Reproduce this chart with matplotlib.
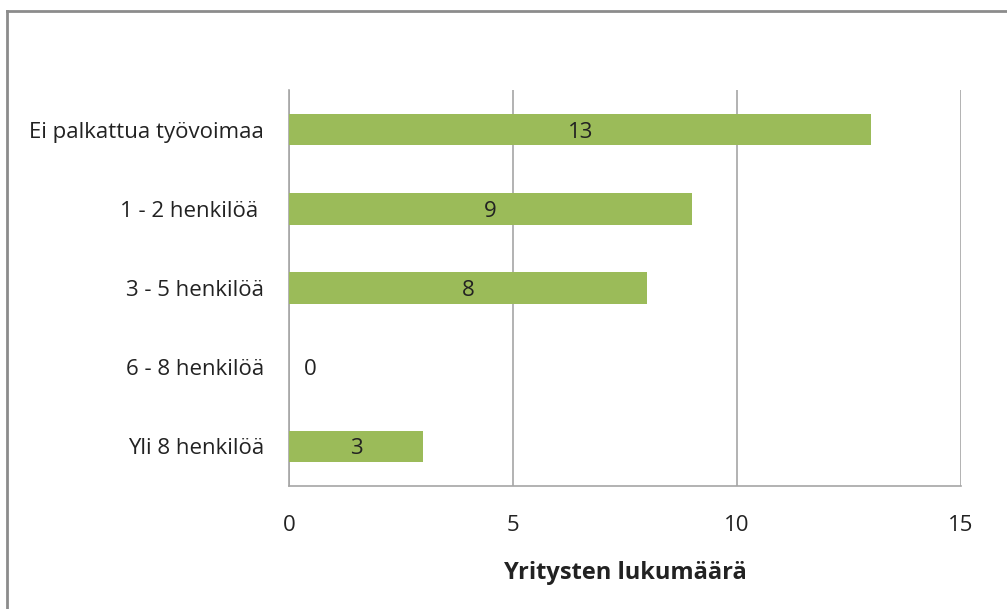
import matplotlib
matplotlib.use('Agg')
from matplotlib import pyplot as plt
from matplotlib.lines import Line2D
import numpy as np

categories = ['Ei palkattua työvoimaa', '1 - 2 henkilöä ', '3 - 5 henkilöä',
              '6 - 8 henkilöä', 'Yli 8 henkilöä']
counts = [13, 9, 8, 0, 3]
x_ticks = [0, 5, 10, 15]
x_label = 'Yritysten lukumäärä'

plt.rcParams['font.family'] = ['Open Sans', 'DejaVu Sans']

W, H = 1007, 609
fig = plt.figure(figsize=(W / 100, H / 100), dpi=100)
ax = fig.add_axes([289 / W, 1 - 486 / H, (961 - 289) / W, (486 - 90) / H])

y_pos = np.arange(len(categories))
ax.barh(y_pos, counts, height=0.4, color='#9bbb59', zorder=3)

for y, v in zip(y_pos, counts):
    if v > 0:
        ax.text(v / 2, y, str(v), ha='center', va='center_baseline',
                fontsize=16, color='#222222', zorder=4)
    else:
        ax.annotate(str(v), (0, y), xytext=(21, 0), textcoords='offset pixels',
                    ha='center', va='center_baseline', fontsize=16,
                    color='#222222')

ax.set_xlim(0, 15)
ax.set_ylim(len(categories) - 0.5, -0.5)
ax.set_xticks(x_ticks)
ax.set_yticks(y_pos, labels=categories)
ax.tick_params(axis='both', length=0, labelsize=16, colors='#222222')
ax.tick_params(axis='y', pad=18)
ax.tick_params(axis='x', pad=21)
ax.xaxis.grid(True, color='#a6a6a6', linewidth=1.2, zorder=0)
for side in ['top', 'right']:
    ax.spines[side].set_visible(False)
for side in ['left', 'bottom']:
    ax.spines[side].set_color('#a6a6a6')
    ax.spines[side].set_linewidth(1.2)
ax.set_xlabel(x_label, fontsize=17, fontweight='bold', labelpad=18,
              color='#222222')

# outer chart border (cut off on right and bottom)
fig.add_artist(Line2D([6.5 / W, 6.5 / W], [0, 1 - 10.5 / H],
                      transform=fig.transFigure, color='#8c8c8c', linewidth=2))
fig.add_artist(Line2D([6.5 / W, 1], [1 - 10.5 / H, 1 - 10.5 / H],
                      transform=fig.transFigure, color='#8c8c8c', linewidth=2))

fig.savefig('out.png', dpi=100)
